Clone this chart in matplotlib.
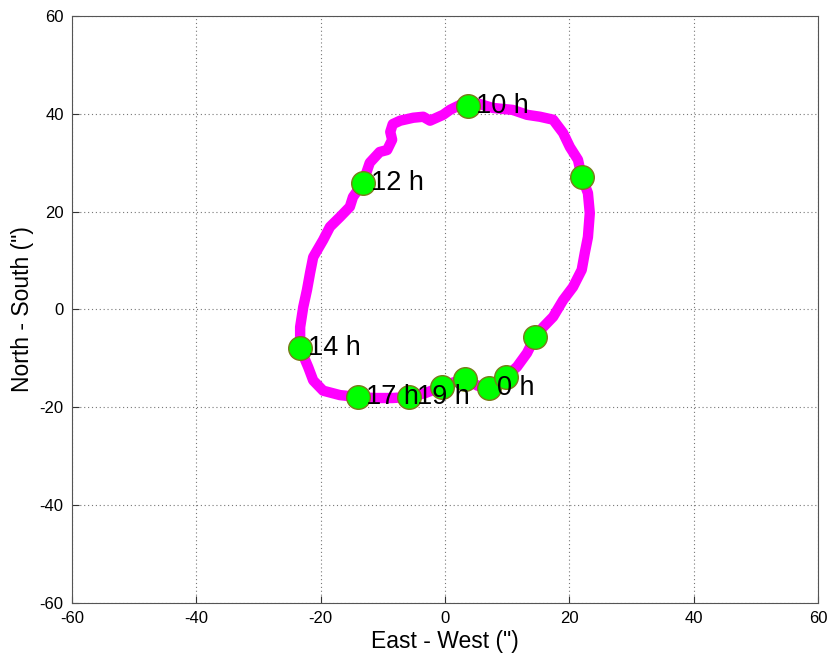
import numpy as np
import matplotlib.pyplot as plt

plt.rcParams['font.family'] = ['Liberation Sans', 'DejaVu Sans']
plt.rcParams['axes.unicode_minus'] = False

# path of the loop (arcsec), starting at 0 h
path_x = [7.1, 8.4, 9.8, 11.6, 13.2, 14.5, 15.8, 17.4, 19.0, 20.6, 22.0, 22.5, 23.0,
          23.3, 23.0, 22.0, 21.4, 20.1, 19.0, 17.4, 15.3, 13.2, 10.9, 7.7, 5.6, 3.9,
          2.4, 0.8, -0.3, -2.4, -3.5, -5.1, -7.2, -8.4, -8.8, -8.5, -9.3, -10.5,
          -12.1, -13.2, -14.8, -15.3, -16.9, -18.5, -19.6, -21.2, -21.7, -22.2,
          -22.8, -23.3, -23.3, -22.0, -21.2, -19.6, -16.9, -14.0, -11.3, -8.5,
          -5.8, -3.2, -0.5, 1.6, 3.2, 5.3, 7.1]
path_y = [-16.1, -15.0, -13.8, -11.7, -8.9, -5.6, -3.6, -1.5, 1.9, 4.6, 8.1, 11.6,
          14.8, 19.7, 23.8, 27.1, 30.6, 33.2, 36.1, 38.8, 39.4, 39.8, 40.8, 41.2,
          42.0, 41.6, 41.8, 40.8, 39.8, 38.6, 39.4, 39.2, 38.6, 37.9, 36.3, 34.7,
          32.6, 32.2, 30.0, 25.9, 23.0, 21.0, 18.9, 16.9, 14.2, 10.7, 7.5, 4.0,
          0.5, -3.6, -7.9, -11.8, -14.5, -16.6, -17.5, -17.9, -18.1, -18.1, -17.9,
          -17.1, -15.8, -14.8, -14.2, -15.6, -16.1]

# hourly markers and their labels
mark_x = [7.1, 9.8, 14.5, 22.0, 3.7, -13.2, -23.3, -14.0, -5.8, -0.5, 3.2]
mark_y = [-16.1, -13.8, -5.6, 27.1, 41.6, 25.9, -7.9, -17.9, -17.9, -15.8, -14.2]
mark_lbl = ['0 h', '', '', '', '10 h', '12 h', '14 h', '17 h', '19 h', '', '']

fig = plt.figure(figsize=(8.27, 6.58), dpi=100)
ax = fig.add_axes([0.0871, 0.0836, 0.9019, 0.8921])

ax.plot(path_x, path_y, color='#ff00ff', lw=7.5, solid_joinstyle='round',
        solid_capstyle='round', zorder=2)
ax.plot(mark_x, mark_y, 'o', ms=17, mfc='#00ff00', mec='#7a7a1a', mew=1.0, zorder=3)
for x, y, s in zip(mark_x, mark_y, mark_lbl):
    if s:
        ax.text(x + 1.3, y, s, fontsize=19.5, va='center', ha='left', zorder=4)

ax.set_xlim(-60, 60)
ax.set_ylim(-60, 60)
ax.set_xticks(np.arange(-60, 61, 20))
ax.set_yticks(np.arange(-60, 61, 20))
ax.grid(True, linestyle=(0, (1, 2.5)), color='#777777', lw=0.8)
ax.tick_params(direction='in', length=5, labelsize=12, color='#333333')
ax.tick_params(axis='x', pad=6)
ax.tick_params(axis='y', pad=6)
for s in ax.spines.values():
    s.set_color('#555555')
ax.set_xlabel('East - West (")', fontsize=16.5, labelpad=3)
ax.set_ylabel('North - South (")', fontsize=16.5, labelpad=4)

fig.savefig('out.png', dpi=100)
